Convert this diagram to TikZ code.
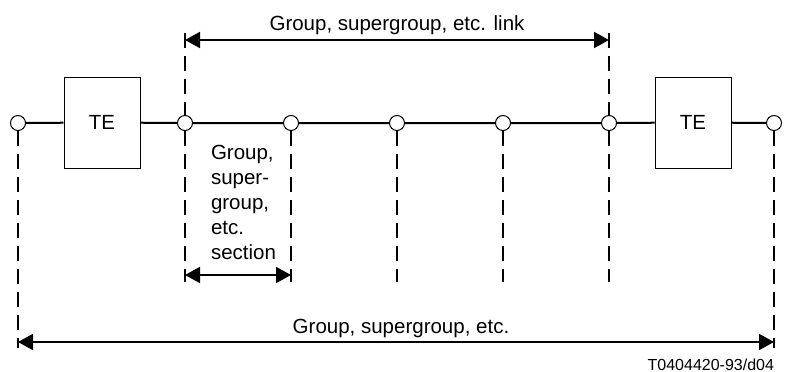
\documentclass[tikz,border=0pt]{standalone}
\usepackage{fontspec}
\setmainfont{Liberation Sans}
\usetikzlibrary{arrows.meta}
\begin{document}
\begin{tikzpicture}[x=1pt,y=-1pt,line width=2pt,
  tap/.style={circle,draw,fill=white,line width=1pt,minimum size=15pt,inner sep=0pt},
  te/.style={draw,line width=1pt,minimum width=76pt,minimum height=91pt,inner sep=0pt,font=\fontsize{20.5}{25}\selectfont},
  lbl/.style={inner sep=0pt,font=\fontsize{20.5}{25}\selectfont},
  dim/.style={{Triangle[length=15pt,width=16pt]}-{Triangle[length=15pt,width=16pt]}},
  bound/.style={dash pattern=on 15pt off 8pt}]
\useasboundingbox (0,0) rectangle (787,372);
\node[tap] (a0) at (18,123) {};
\node[te] (te1) at (102,122.5) {TE};
\node[tap] (a1) at (185,123) {};
\node[tap] (a2) at (291,123) {};
\node[tap] (a3) at (397,123) {};
\node[tap] (a4) at (503,123) {};
\node[tap] (a5) at (609,123) {};
\node[te] (te2) at (693,122.5) {TE};
\node[tap] (a6) at (774,123) {};
\draw (a0) -- (te1) -- (a1) -- (a2) -- (a3) -- (a4) -- (a5) -- (te2) -- (a6);
\coordinate (t1) at (185,33);
\coordinate (t5) at (609,33);
\coordinate (s1) at (185,282);
\coordinate (s2) at (291,282);
\coordinate (s3) at (397,282);
\coordinate (s4) at (503,282);
\coordinate (s5) at (609,282);
\coordinate (b0) at (18,348);
\coordinate (b6) at (774,348);
\draw[bound] (t1) -- (a1);
\draw[bound] (t5) -- (a5);
\draw[bound] (a1) -- (s1);
\draw[bound] (a2) -- (s2);
\draw[bound] (a3) -- (s3);
\draw[bound] (a4) -- (s4);
\draw[bound] (a5) -- (s5);
\draw[bound] (a0) -- (b0);
\draw[bound] (a6) -- (b6);
\coordinate (lk1) at (185,40);
\coordinate (lk5) at (609,40);
\coordinate (sc1) at (185,275);
\coordinate (sc2) at (291,275);
\coordinate (gr0) at (18,342);
\coordinate (gr6) at (774,342);
\draw[dim] (lk1) -- (lk5);
\draw[dim] (sc1) -- (sc2);
\draw[dim] (gr0) -- (gr6);
\node[lbl,anchor=base] (linklbl) at (397,30) {Group, supergroup, etc. link};
\node[lbl,anchor=north west,align=left] (seclbl) at (210,144) {Group,\\super-\\group,\\etc.\\section};
\node[lbl,anchor=base] (grlbl) at (401,333) {Group, supergroup, etc.};
\node[inner sep=0pt,anchor=base east,font=\fontsize{16}{19}\selectfont] (ref) at (775,370) {T0404420-93/d04};
\end{tikzpicture}
\end{document}
